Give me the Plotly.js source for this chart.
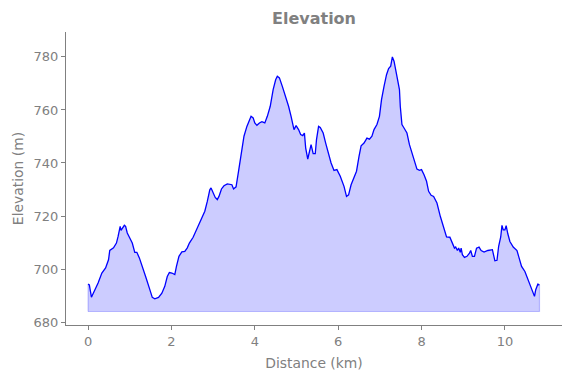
<!DOCTYPE html>
<html>
<head>
<meta charset="utf-8">
<script src="https://cdn.plot.ly/plotly-3.0.1.min.js"></script>
<style>html,body{margin:0;padding:0;background:#fff;}#chart{width:571px;height:378px;}</style>
</head>
<body>
<div id="chart"></div>
<script>
const distanceKm = [0, 0.03, 0.08, 0.14, 0.24, 0.33, 0.42, 0.49, 0.52, 0.61, 0.68, 0.72, 0.77, 0.79, 0.83, 0.87, 0.90, 0.94, 1.0, 1.06, 1.12, 1.17, 1.23, 1.29, 1.38, 1.47, 1.54, 1.60, 1.69, 1.77, 1.84, 1.90, 1.95, 2.01, 2.08, 2.12, 2.18, 2.25, 2.32, 2.38, 2.43, 2.52, 2.60, 2.69, 2.80, 2.86, 2.92, 2.95, 2.99, 3.05, 3.10, 3.14, 3.20, 3.26, 3.34, 3.41, 3.45, 3.49, 3.55, 3.61, 3.67, 3.74, 3.81, 3.87, 3.91, 3.96, 4.0, 4.05, 4.11, 4.17, 4.24, 4.30, 4.37, 4.44, 4.50, 4.54, 4.59, 4.66, 4.74, 4.81, 4.87, 4.94, 4.99, 5.05, 5.10, 5.15, 5.19, 5.22, 5.27, 5.31, 5.35, 5.40, 5.45, 5.48, 5.53, 5.57, 5.64, 5.70, 5.76, 5.83, 5.90, 5.97, 6.05, 6.14, 6.20, 6.25, 6.31, 6.37, 6.44, 6.50, 6.55, 6.62, 6.69, 6.75, 6.81, 6.86, 6.93, 6.99, 7.04, 7.10, 7.16, 7.21, 7.26, 7.30, 7.34, 7.41, 7.47, 7.49, 7.53, 7.58, 7.65, 7.71, 7.80, 7.89, 7.95, 8.0, 8.06, 8.12, 8.17, 8.23, 8.29, 8.37, 8.45, 8.54, 8.60, 8.68, 8.74, 8.79, 8.82, 8.86, 8.89, 8.93, 8.95, 8.98, 9.03, 9.09, 9.15, 9.18, 9.22, 9.27, 9.32, 9.38, 9.43, 9.50, 9.59, 9.70, 9.76, 9.81, 9.85, 9.90, 9.93, 9.96, 10.0, 10.03, 10.07, 10.12, 10.20, 10.29, 10.33, 10.40, 10.48, 10.55, 10.64, 10.71, 10.74, 10.79, 10.83];
const elevationM = [694.3, 694, 689.4, 691.2, 694.7, 698.5, 700.4, 703.5, 707, 708, 709.8, 712.3, 716.1, 714.6, 715.8, 716.5, 716.1, 713.6, 711.7, 709.8, 706.3, 706.3, 704.2, 701.6, 697.2, 692.8, 689.3, 688.8, 689.3, 690.9, 693.5, 697.2, 698.7, 698.5, 697.9, 701, 704.8, 706.5, 706.7, 708, 709.8, 712, 714.8, 718, 721.8, 725.5, 729.9, 730.6, 729.3, 727, 726.2, 727.4, 730.2, 731.4, 732.1, 731.8, 731.8, 730.2, 731, 736.9, 743.1, 750.1, 753.8, 756.4, 757.6, 757, 755.1, 754.2, 755.1, 755.6, 755.1, 757.6, 761.4, 767.7, 771.4, 772.7, 772.1, 768.9, 765.2, 761.4, 757.6, 752.6, 754.1, 752.6, 750.7, 750.3, 751.3, 745.7, 741.5, 745, 746.9, 743.5, 743.5, 748.8, 753.8, 753.4, 751.3, 747.5, 743.8, 740, 737.2, 737.5, 735, 731.2, 727.4, 728, 731.8, 734.3, 736.9, 742.5, 746.5, 747.5, 749.4, 749, 750.1, 752.6, 754.5, 757.6, 763.9, 768.9, 773.3, 775.6, 776.5, 780, 778.4, 772.7, 767.7, 761.4, 754.5, 753.2, 751.3, 746.9, 742.5, 737.7, 737.2, 737.5, 735.6, 733.1, 729.3, 727.8, 727.4, 724.9, 719.9, 715.5, 712.1, 712, 709.8, 707.9, 708.3, 707, 707.9, 706.3, 707.9, 705.4, 704.4, 704.8, 706, 707, 704.8, 704.8, 707.9, 708.3, 707, 706.4, 707, 707.3, 703.1, 703.3, 708.6, 712.1, 716.5, 714.8, 714.8, 716.4, 713.3, 710.4, 708.3, 707, 704.8, 701, 699.1, 696.2, 692.8, 689.7, 692.2, 694.3, 694];
const fillBase = 684;
const xTicks = [0, 2, 4, 6, 8, 10];
const yTicks = [680, 700, 720, 740, 760, 780];

const gray = '#808080';
const font = 'DejaVu Sans, sans-serif';

const baseTrace = {
  x: [distanceKm[0], distanceKm[distanceKm.length - 1], distanceKm[distanceKm.length - 1]],
  y: [fillBase, fillBase, elevationM[elevationM.length - 1]],
  mode: 'lines',
  line: {color: 'rgba(0,0,255,0.22)', width: 1.2},
  hoverinfo: 'skip',
  showlegend: false
};
const leftEdge = {
  x: [distanceKm[0], distanceKm[0]],
  y: [fillBase, elevationM[0]],
  mode: 'lines',
  line: {color: 'rgba(0,0,255,0.22)', width: 1.2},
  hoverinfo: 'skip',
  showlegend: false
};
const fillTrace = {
  x: [distanceKm[0]].concat(distanceKm, [distanceKm[distanceKm.length - 1]]),
  y: [fillBase].concat(elevationM, [fillBase]),
  mode: 'lines',
  fill: 'toself',
  fillcolor: 'rgba(0,0,255,0.2)',
  line: {width: 0},
  hoverinfo: 'skip',
  showlegend: false
};
const lineTrace = {
  x: distanceKm,
  y: elevationM,
  mode: 'lines',
  line: {color: '#0000ff', width: 1.3},
  showlegend: false
};

const layout = {
  width: 571, height: 378,
  margin: {l: 66, r: 9, t: 32, b: 53},
  paper_bgcolor: '#fff', plot_bgcolor: '#fff',
  font: {family: font, color: gray, size: 13},
  title: {text: '<b>Elevation</b>', font: {family: font, size: 16, color: gray}, xref: 'paper', x: 0.5, xanchor: 'center', yref: 'container', y: 0.952, yanchor: 'middle'},
  xaxis: {
    range: [-0.53, 11.37], tickvals: xTicks, ticktext: xTicks.map(String),
    showgrid: false, zeroline: false, showline: true, linecolor: gray, linewidth: 1,
    ticks: 'outside', ticklen: 4, tickcolor: gray, tickfont: {size: 13, color: gray},
    title: {text: 'Distance (km)', font: {size: 13.9, color: gray}, standoff: 10}
  },
  yaxis: {
    range: [678.9, 789.4], tickvals: yTicks, ticktext: yTicks.map(String),
    showgrid: false, zeroline: false, showline: true, linecolor: gray, linewidth: 1,
    ticks: 'outside', ticklen: 4, tickcolor: gray, tickfont: {size: 13, color: gray},
    title: {text: 'Elevation (m)', font: {size: 13.9, color: gray}, standoff: 6}
  }
};

Plotly.newPlot('chart', [fillTrace, baseTrace, leftEdge, lineTrace], layout, {displayModeBar: false, staticPlot: true});
</script>
</body>
</html>
